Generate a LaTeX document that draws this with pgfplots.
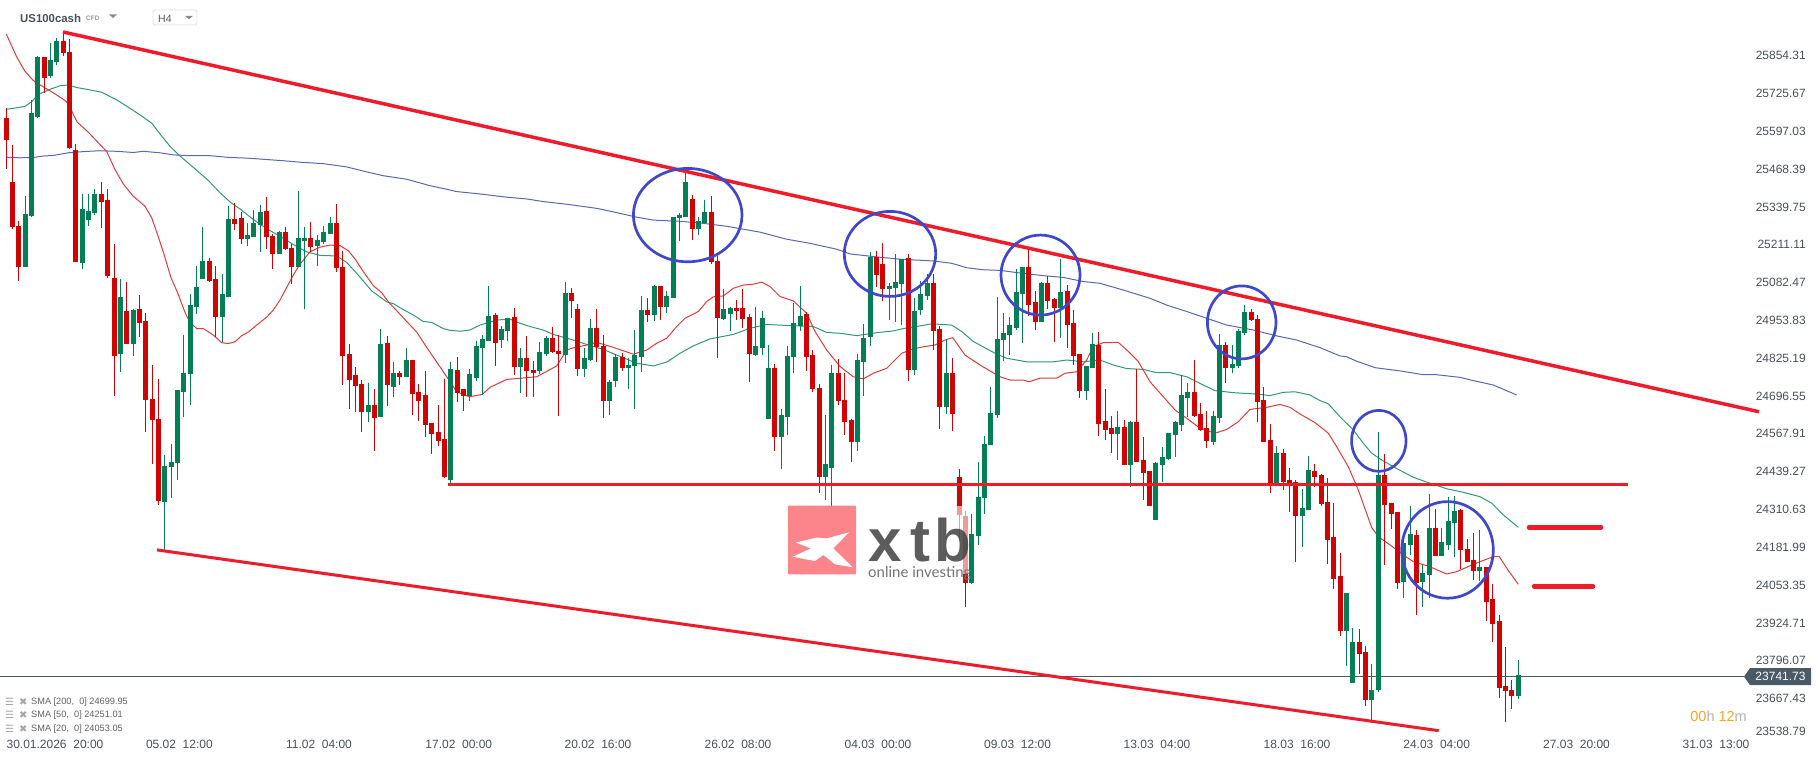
\documentclass[border=0pt]{standalone}
\usepackage{fontspec}
\setmainfont{Liberation Sans}
\newfontfamily\dvs{DejaVu Sans}
\newfontfamily\lato{Lato}
\usepackage{pgfplots}
\usepackage{pgfplotstable}
\pgfplotsset{compat=1.18}
\definecolor{cRed}{HTML}{D10404}
\definecolor{cGreen}{HTML}{047F55}
\definecolor{trend}{HTML}{EF1B2B}
\definecolor{circ}{HTML}{3F48CC}
\definecolor{sRed}{HTML}{E03A3A}
\definecolor{sGreen}{HTML}{2E9A78}
\definecolor{sBlue}{HTML}{5A66B8}
\definecolor{txt}{HTML}{4A5058}
\definecolor{tag}{HTML}{4A5A66}
\definecolor{orng}{HTML}{F5A623}
\definecolor{wm}{HTML}{FC848B}
\pgfplotstableread{
x h l t b
6.3 25676 25470 25643 25569
12.3 25551 25266 25424 25270
18.3 25292 25089 25275 25136
44.3 25850 25729 25850 25777
63.3 25935 25854 25904 25862
69.3 25910 25536 25867 25539
75.3 25553 25153 25532 25153
101.3 25423 25269 25384 25358
107.3 25401 25099 25364 25105
114.3 25213 24698 25099 24834
126.3 25084 24875 24986 24875
139.3 25040 24896 24993 24946
145.3 24978 24573 24952 24684
152.3 24802 24464 24687 24616
158.3 24755 24326 24619 24339
209.3 25166 25083 25156 25088
215.3 25139 24896 25095 24966
234.3 25354 25263 25299 25282
241.3 25321 25215 25303 25232
266.3 25373 25197 25326 25238
272.3 25248 25127 25241 25180
285.3 25271 25193 25254 25195
291.3 25214 25078 25201 25134
310.3 25288 25187 25235 25203
336.3 25350 25118 25286 25133
342.3 25189 24735 25135 24834
349.3 24874 24653 24840 24752
355.3 24795 24643 24768 24732
361.3 24750 24575 24738 24643
374.3 24720 24511 24666 24622
387.3 24901 24664 24878 24735
399.3 24780 24735 24776 24760
412.3 24819 24633 24819 24704
418.3 24738 24612 24710 24680
425.3 24782 24557 24700 24599
431.3 24605 24501 24605 24569
438.3 24666 24528 24574 24543
444.3 24755 24418 24551 24421
457.3 24829 24677 24785 24707
463.3 24721 24647 24721 24697
495.3 24979 24799 24973 24877
514.3 24996 24769 24966 24796
526.3 24901 24694 24826 24782
533.3 24816 24694 24786 24775
552.3 24932 24843 24894 24847
558.3 24905 24629 24850 24840
571.3 25065 24962 25048 25020
577.3 25010 24765 24993 24789
596.3 24993 24813 24928 24864
603.3 24905 24622 24867 24680
622.3 24843 24782 24830 24792
647.3 25031 24949 24990 24973
660.3 25071 24956 25071 25000
692.3 25381 25228 25367 25265
711.3 25378 25146 25323 25153
717.3 25173 24826 25156 24962
736.3 25024 24956 24996 24986
742.3 25061 24928 24996 24959
749.3 24976 24745 24966 24840
774.3 24806 24510 24792 24558
806.3 24983 24782 24976 24830
812.3 24854 24711 24836 24721
819.3 24738 24367 24724 24421
838.3 24823 24666 24775 24680
844.3 24775 24564 24684 24609
851.3 24619 24472 24615 24540
876.3 25190 25068 25170 25109
882.3 25218 25020 25146 25061
908.3 25180 24748 25166 24785
933.3 25112 24853 25081 24918
939.3 24935 24585 24925 24659
952.3 24826 24578 24775 24636
959.3 24449 24203 24421 24292
965.3 24305 23979 24289 24061
1028.3 25194 24969 25136 25006
1035.3 25054 24921 25016 24948
1047.3 25105 24993 25081 25020
1054.3 25030 24880 25027 24996
1067.3 25074 24860 25054 24938
1073.3 24989 24802 24945 24833
1079.3 24840 24690 24840 24714
1098.3 24914 24561 24870 24602
1105.3 24721 24547 24612 24581
1111.3 24629 24503 24588 24568
1124.3 24615 24462 24592 24462
1136.3 24789 24472 24609 24472
1143.3 24557 24343 24479 24435
1149.3 24442 24322 24442 24322
1194.3 24819 24625 24710 24629
1200.3 24673 24578 24636 24581
1206.3 24646 24520 24588 24544
1225.3 24880 24741 24870 24792
1251.3 24993 24952 24983 24955
1257.3 24972 24609 24959 24676
1263.3 24727 24540 24683 24540
1270.3 24602 24367 24547 24397
1283.3 24517 24377 24503 24404
1289.3 24452 24302 24411 24397
1295.3 24411 24132 24404 24289
1314.3 24465 24387 24441 24421
1321.3 24431 24322 24428 24329
1327.3 24418 24125 24336 24207
1333.3 24333 24040 24217 24074
1340.3 24162 23880 24084 23897
1359.3 23904 23751 23860 23819
1365.3 23846 23642 23826 23662
1384.3 24499 24122 24428 24326
1391.3 24333 24244 24333 24295
1397.3 24302 24040 24302 24060
1416.3 24241 23952 24224 24060
1435.3 24312 24152 24248 24152
1460.3 24312 24108 24309 24173
1467.3 24210 24132 24176 24132
1473.3 24231 24071 24139 24101
1486.3 24115 23931 24115 23996
1492.3 24057 23860 24006 23921
1499.3 23952 23669 23931 23703
1505.3 23843 23588 23710 23693
1511.3 23730 23632 23696 23676
}\redT
\pgfplotstableread{
x h l t b
25.3 25377 25136 25315 25136
31.3 25703 25307 25660 25310
37.3 25853 25641 25850 25645
50.3 25898 25777 25840 25785
56.3 25914 25824 25904 25833
82.3 25384 25130 25333 25150
88.3 25384 25276 25326 25297
94.3 25400 25313 25384 25320
120.3 25094 24779 25033 24838
133.3 24992 24834 24989 24875
164.3 24496 24173 24458 24337
171.3 24534 24348 24472 24454
177.3 24717 24412 24717 24467
183.3 24904 24624 24776 24709
190.3 25044 24667 25006 24772
196.3 25139 24977 25067 25000
202.3 25271 25096 25156 25096
222.3 25112 24880 25044 24966
228.3 25343 25032 25299 25032
247.3 25286 25208 25245 25232
253.3 25330 25236 25286 25237
260.3 25347 25185 25322 25279
279.3 25257 25180 25254 25180
298.3 25394 25135 25235 25135
304.3 25271 24991 25235 25224
317.3 25245 25139 25228 25206
323.3 25275 25214 25254 25221
330.3 25305 25248 25286 25248
368.3 24742 24607 24666 24643
380.3 24925 24625 24874 24625
393.3 24812 24693 24776 24726
406.3 24861 24760 24819 24760
450.3 24811 24398 24789 24411
469.3 24789 24681 24772 24697
476.3 24884 24746 24867 24758
482.3 24903 24699 24891 24860
488.3 25071 24883 24969 24884
501.3 24935 24860 24925 24888
507.3 24962 24884 24962 24918
520.3 24860 24707 24826 24796
539.3 24881 24772 24847 24782
546.3 24901 24833 24894 24840
565.3 25085 24809 25048 24837
584.3 24860 24762 24826 24789
590.3 24959 24816 24928 24820
609.3 24752 24632 24745 24680
615.3 24840 24728 24830 24748
628.3 24826 24721 24803 24792
634.3 24922 24653 24837 24799
641.3 25037 24779 24990 24830
654.3 25075 24952 25071 24973
666.3 25054 24979 25037 25000
673.3 25306 25031 25306 25031
679.3 25320 25224 25313 25303
685.3 25459 25306 25425 25306
698.3 25306 25245 25292 25265
704.3 25364 25282 25323 25286
723.3 25061 24956 24993 24959
730.3 25000 24918 24996 24976
755.3 25000 24833 24867 24837
762.3 24986 24837 24962 24860
768.3 24871 24619 24792 24619
781.3 24653 24449 24632 24558
787.3 24867 24564 24833 24626
793.3 25013 24775 24945 24830
800.3 25071 24918 24969 24935
825.3 24632 24343 24466 24421
831.3 24803 24323 24775 24452
857.3 24840 24510 24820 24540
863.3 24942 24697 24894 24813
870.3 25187 24867 25170 24898
889.3 25082 24956 25071 25061
895.3 25180 24949 25085 25065
901.3 25163 24938 25163 25078
914.3 25030 24768 24986 24785
920.3 25088 24972 25044 24989
927.3 25112 25023 25081 25037
946.3 24891 24636 24775 24659
971.3 24295 24057 24227 24061
978.3 24472 24190 24353 24220
984.3 24560 24295 24533 24350
990.3 24727 24530 24639 24530
997.3 25034 24622 24891 24632
1003.3 24979 24816 24911 24887
1009.3 24966 24836 24938 24904
1016.3 25129 24921 25050 24928
1022.3 25136 24877 25136 25044
1041.3 25085 24948 25081 24948
1060.3 25163 24894 25050 24996
1086.3 24799 24683 24799 24714
1092.3 24911 24792 24874 24792
1117.3 24646 24479 24592 24568
1130.3 24612 24387 24609 24462
1155.3 24472 24275 24469 24275
1162.3 24523 24404 24489 24462
1168.3 24571 24479 24571 24482
1175.3 24612 24489 24609 24564
1181.3 24768 24578 24700 24598
1187.3 24741 24625 24710 24690
1213.3 24646 24530 24629 24540
1219.3 24908 24605 24870 24622
1232.3 24870 24775 24806 24792
1238.3 24925 24792 24918 24799
1244.3 25007 24904 24983 24911
1276.3 24527 24397 24503 24397
1302.3 24380 24183 24316 24289
1308.3 24492 24309 24445 24309
1346.3 24026 23778 24026 23897
1352.3 23907 23720 23860 23720
1371.3 23785 23594 23696 23662
1378.3 24574 23690 24428 23696
1403.3 24224 24009 24197 24064
1410.3 24322 24156 24227 24190
1422.3 24122 23979 24094 24064
1429.3 24363 24009 24248 24088
1441.3 24248 24152 24200 24152
1448.3 24353 24173 24271 24190
1454.3 24356 24149 24305 24265
1479.3 24241 24067 24115 24101
1518.3 23798 23666 23747 23676
}\greenT
\begin{document}
\begin{tikzpicture}
\begin{axis}[
  scale only axis, width=1816pt, height=761pt,
  xmin=0, xmax=1816, ymin=23454.9, ymax=26043.8,
  scaled y ticks=false, scaled x ticks=false,
  axis line style={draw=none},
  major tick length=0pt, tick style={draw=none},
  xtick={55,179.4,319,458.8,598,738,878,1017.6,1157,1297,1436.7,1576.5,1716},
  xticklabels={{30.01.2026~~20:00},{05.02~~12:00},{11.02~~04:00},{17.02~~00:00},{20.02~~16:00},{26.02~~08:00},{04.03~~00:00},{09.03~~12:00},{13.03~~04:00},{18.03~~16:00},{24.03~~04:00},{27.03~~20:00},{31.03~~13:00}},
  xticklabel style={anchor=center, yshift=17pt, inner sep=0pt, text=txt, font=\fontsize{12}{14}\selectfont},
  ytick={25854.31,25725.67,25597.03,25468.39,25339.75,25211.11,25082.47,24953.83,24825.19,24696.55,24567.91,24439.27,24310.63,24181.99,24053.35,23924.71,23796.07,23667.43,23554.6},
  yticklabels={25854.31,25725.67,25597.03,25468.39,25339.75,25211.11,25082.47,24953.83,24825.19,24696.55,24567.91,24439.27,24310.63,24181.99,24053.35,23924.71,23796.07,23667.43,23538.79},
  yticklabel pos=right,
  yticklabel style={anchor=east, xshift=-10pt, inner sep=0pt, text=txt, font=\fontsize{12}{14}\selectfont},
  candle/.style={draw=none, no markers, forget plot, error bars/.cd, y dir=minus, y explicit, error mark=none, error bar style={line width=#1}},
]
% price line
\addplot[tag, line width=1pt, forget plot] coordinates {(0,23741.73) (1744,23741.73)};
% SMA 200
\addplot[sBlue, line width=1pt, forget plot] coordinates {
(6.3,25509)(20,25507)(33.3,25508)(43.3,25513)(53.3,25515)(68.3,25524)(83.3,25528)(100,25531)(116.7,25529)(133.3,25525)(143.3,25529)(160,25524)(173.3,25517)(190,25514)(210,25514)(230,25508)(246.7,25506)(266.7,25501)(283.3,25497)(300,25492)(323.3,25487)(346.7,25476)(366.7,25459)(383.3,25446)(406.7,25434)(430,25412)(446.7,25400)(456.7,25392)(480,25384)(506.7,25373)(526.7,25367)(543.3,25358)(566.7,25349)(596.7,25335)(613.3,25323)(636.7,25305)(653.3,25295)(680,25291)(703.3,25284)(726.7,25274)(760,25254)(786.7,25230)(810,25216)(836.7,25196)(850,25180)(873.3,25171)(900,25162)(933.3,25156)(951.7,25148)(966.7,25133)(983.3,25126)(1000,25124)(1020,25115)(1043.3,25106)(1063.3,25100)(1083.3,25086)(1100,25080)(1123.3,25057)(1150,25029)(1166.7,25006)(1186.7,24984)(1206.7,24961)(1226.7,24938)(1253.3,24921)(1276.7,24901)(1296.7,24887)(1320,24861)(1340,24833)(1346.7,24830)(1356.7,24815)(1370,24799)(1375,24793)(1400,24782)(1423.3,24769)(1436.7,24769)(1460,24760)(1473.3,24749)(1493.3,24734)(1516.7,24700)};
% SMA 50
\addplot[sGreen, line width=1pt, forget plot] coordinates {
(6.3,25672)(15,25676)(25,25682)(31.7,25698)(38.3,25722)(50,25740)(60,25752)(68.3,25755)(76.7,25746)(88.3,25739)(101.7,25730)(116.7,25704)(128.3,25679)(140,25653)(151.7,25625)(160,25588)(170,25546)(180,25513)(191.7,25479)(208.3,25430)(220,25388)(230,25357)(240,25333)(253.3,25297)(266.7,25266)(280,25240)(293.3,25212)(306.7,25187)(320,25175)(336.7,25173)(346.7,25151)(358.3,25108)(371.7,25054)(386.7,25017)(393.3,25011)(400,24997)(413.3,24972)(423.3,24950)(431.7,24947)(443.3,24926)(450,24920)(460,24917)(470,24921)(480,24938)(496.7,24955)(510,24958)(520,24944)(530,24933)(543.3,24921)(553.3,24906)(573.3,24887)(586.7,24872)(603.3,24855)(616.7,24836)(636.7,24808)(653.3,24799)(666.7,24812)(680,24842)(693.3,24867)(710,24891)(733.3,24906)(750,24927)(766.7,24940)(790,24936)(813.3,24933)(826.7,24913)(840,24910)(856.7,24902)(876.7,24912)(893.3,24918)(903.3,24926)(916.7,24933)(931.7,24942)(951.7,24938)(961.7,24916)(973.3,24882)(995,24842)(1006.7,24825)(1026.7,24813)(1053.3,24813)(1066.7,24819)(1083.3,24813)(1100,24819)(1113.3,24802)(1126.7,24790)(1143.3,24787)(1156.7,24776)(1170,24776)(1186.7,24762)(1203.3,24734)(1215,24715)(1233.3,24708)(1256.7,24703)(1270,24698)(1283.3,24709)(1295,24711)(1310,24700)(1320,24681)(1328.3,24670)(1340,24626)(1353.3,24581)(1363.3,24536)(1371.7,24502)(1381.7,24479)(1395,24453)(1413.3,24420)(1428.3,24402)(1446.7,24381)(1463.3,24369)(1480,24354)(1491.7,24332)(1503.3,24292)(1518.3,24250)};
% SMA 20
\addplot[sRed, line width=1pt, forget plot] coordinates {
(6.3,25928)(16.7,25850)(25,25801)(33.3,25770)(44.3,25746)(53.3,25728)(63.3,25706)(68.3,25692)(73.3,25655)(77.3,25628)(88.3,25594)(100,25552)(106.7,25528)(115,25467)(123.3,25418)(132.7,25378)(145,25342)(151.7,25303)(156.7,25254)(163.3,25187)(170.7,25102)(178.3,25042)(185,24981)(190,24947)(196.7,24926)(203.3,24926)(213.3,24904)(221.7,24878)(228.3,24875)(235,24881)(241.7,24902)(248.3,24914)(256.7,24938)(266.7,24965)(273.3,24989)(280,25023)(286.7,25066)(293.3,25108)(300,25145)(310,25187)(320,25203)(330,25210)(340,25208)(348.3,25191)(355,25163)(363.3,25120)(373.3,25072)(381.7,25048)(388.3,25017)(396.7,24987)(406.7,24950)(416.7,24914)(425,24871)(433.3,24829)(440,24796)(446.7,24762)(456.7,24711)(469.3,24694)(482.3,24702)(490,24726)(506.7,24753)(520,24757)(536.7,24762)(556.7,24799)(566.7,24853)(571.7,24859)(586.7,24870)(596.7,24879)(613.3,24862)(633.3,24839)(646.7,24853)(656.7,24876)(666.7,24893)(676.7,24933)(685,24961)(698.3,24984)(706.7,25018)(713.3,25034)(723.3,25037)(733.3,25063)(743.3,25074)(753.3,25077)(761.7,25084)(770,25069)(780,25035)(793.3,25020)(806.7,24978)(815,24916)(826.7,24853)(840,24797)(853.3,24762)(863.3,24755)(873.3,24774)(886.7,24791)(901.7,24842)(913.3,24857)(923.3,24864)(935,24870)(945,24887)(952.7,24895)(965,24836)(980,24802)(1000,24762)(1010,24751)(1023.3,24751)(1029,24745)(1040,24757)(1056.7,24757)(1065,24774)(1076.7,24779)(1086.7,24819)(1093.3,24865)(1103.3,24878)(1118.3,24879)(1128.3,24848)(1138.3,24814)(1150,24745)(1163.3,24694)(1175,24649)(1186.7,24621)(1200,24587)(1215,24570)(1226.7,24583)(1238.3,24609)(1250,24651)(1266.7,24658)(1280,24668)(1290,24658)(1301.7,24632)(1315,24606)(1328.3,24570)(1336.7,24524)(1348.3,24456)(1358.3,24377)(1371.7,24249)(1378.3,24218)(1390,24190)(1403.3,24156)(1413.3,24133)(1428.3,24118)(1446.7,24091)(1456.7,24099)(1470,24119)(1480,24133)(1493.3,24150)(1499.3,24150)(1508.3,24103)(1518.3,24056)};
% candles: wicks and bodies
\addplot[draw=none, no markers, forget plot, error bars/.cd, y dir=minus, y explicit, error mark=none, error bar style={line width=1pt, draw=cRed}] table[x=x, y=h, y error minus expr=\thisrow{h}-\thisrow{l}] {\redT};
\addplot[draw=none, no markers, forget plot, error bars/.cd, y dir=minus, y explicit, error mark=none, error bar style={line width=5pt, draw=cRed}] table[x=x, y=t, y error minus expr=\thisrow{t}-\thisrow{b}] {\redT};
\addplot[draw=none, no markers, forget plot, error bars/.cd, y dir=minus, y explicit, error mark=none, error bar style={line width=1pt, draw=cGreen}] table[x=x, y=h, y error minus expr=\thisrow{h}-\thisrow{l}] {\greenT};
\addplot[draw=none, no markers, forget plot, error bars/.cd, y dir=minus, y explicit, error mark=none, error bar style={line width=5pt, draw=cGreen}] table[x=x, y=t, y error minus expr=\thisrow{t}-\thisrow{b}] {\greenT};
% watermark
\fill[white, fill opacity=0.6] (axis cs:788,24324) rectangle (axis cs:968,24092);
\fill[wm, rounded corners=1pt] (axis cs:788,24324) rectangle (axis cs:856,24090);
\fill[white] (axis cs:792.7,24150)--(axis cs:815,24135)--(axis cs:823.3,24156)--(axis cs:835,24124)--(axis cs:852.7,24114)--(axis cs:833.3,24178)--(axis cs:849,24233)--(axis cs:826.7,24212)--(axis cs:816.7,24215)--(axis cs:795.7,24198)--(axis cs:811,24178)--cycle;
\node[anchor=base west, inner sep=0pt, text=black!75, text opacity=0.85, font=\fontsize{60}{60}\selectfont\bfseries] at (axis cs:868,24133) {x};
\node[anchor=base west, inner sep=0pt, text=black!75, text opacity=0.85, font=\fontsize{60}{60}\selectfont\bfseries] at (axis cs:910,24133) {t};
\node[anchor=base west, inner sep=0pt, text=black!75, text opacity=0.85, font=\fontsize{60}{60}\selectfont\bfseries] at (axis cs:934,24133) {b};
\node[anchor=base west, inner sep=0pt, text=black!55, font=\fontsize{15}{15}\selectfont\lato] at (axis cs:868,24080) {online investing};
% trend lines
\addplot[trend, line width=3.5pt, forget plot] coordinates {(63,25935) (1759,24643)};
\addplot[trend, line width=3pt, forget plot] coordinates {(157,24173) (1438.7,23558)};
\addplot[trend, line width=3pt, forget plot] coordinates {(448,24396) (1628,24396)};
\addplot[trend, line width=4.5pt, line cap=round, forget plot] coordinates {(1529,24250) (1601,24250)};
\addplot[trend, line width=4.5pt, line cap=round, forget plot] coordinates {(1534,24049) (1593,24049)};
% circles
\draw[circ, line width=2.7pt] (axis cs:687.7,25312) ellipse [x radius=54.3pt, y radius=46.7pt];
\draw[circ, line width=2.7pt] (axis cs:890,25180) ellipse [x radius=45.7pt, y radius=42.5pt];
\draw[circ, line width=2.7pt] (axis cs:1040.5,25108) ellipse [x radius=39.5pt, y radius=40pt];
\draw[circ, line width=2.7pt] (axis cs:1241.7,24947) ellipse [x radius=34.3pt, y radius=36.5pt];
\draw[circ, line width=2.7pt] (axis cs:1378.8,24544) ellipse [x radius=27.2pt, y radius=30.5pt];
\draw[circ, line width=2.7pt] (axis cs:1447.5,24173) ellipse [x radius=45.8pt, y radius=48.3pt];
% price tag
\fill[tag] (axis cs:1744,23741.73)--(axis cs:1750,23771)--(axis cs:1811,23771)--(axis cs:1811,23713)--(axis cs:1750,23713)--cycle;
\node[text=white, inner sep=0pt, font=\fontsize{12}{14}\selectfont] at (axis cs:1780.5,23741.73) {23741.73};
% header
\node[anchor=west, inner sep=0pt, text=txt, font=\fontsize{11.4}{13}\selectfont\bfseries] at (axis cs:20,25982) {US100cash};
\node[anchor=west, inner sep=0pt, text=black!40, font=\fontsize{6.5}{8}\selectfont\bfseries] at (axis cs:86,25980) {CFD};
\fill[black!45] (axis cs:109,25995)--(axis cs:117,25995)--(axis cs:113,25982)--cycle;
\draw[black!12, line width=0.8pt, rounded corners=2pt] (axis cs:153,26010) rectangle (axis cs:197,25959);
\node[anchor=west, inner sep=0pt, text=black!65, font=\fontsize{10.5}{12}\selectfont] at (axis cs:158,25980) {H4};
\fill[black!45] (axis cs:185,25990)--(axis cs:193,25990)--(axis cs:189,25978)--cycle;
% legend
\node[anchor=west, inner sep=0pt, text=black!35, font=\fontsize{10}{11}\selectfont\dvs] at (axis cs:5,23656.7) {☰\hspace{5pt}✖};
\node[anchor=west, inner sep=0pt, text=black!35, font=\fontsize{10}{11}\selectfont\dvs] at (axis cs:5,23611.4) {☰\hspace{5pt}✖};
\node[anchor=west, inner sep=0pt, text=black!35, font=\fontsize{10}{11}\selectfont\dvs] at (axis cs:5,23562.8) {☰\hspace{5pt}✖};
\node[anchor=west, inner sep=0pt, text=black!62, font=\fontsize{9.2}{10}\selectfont] at (axis cs:31,23656.7) {SMA [200,~ 0] 24699.95};
\node[anchor=west, inner sep=0pt, text=black!62, font=\fontsize{9.2}{10}\selectfont] at (axis cs:31,23611.4) {SMA [50,~ 0] 24251.01};
\node[anchor=west, inner sep=0pt, text=black!62, font=\fontsize{9.2}{10}\selectfont] at (axis cs:31,23562.8) {SMA [20,~ 0] 24053.05};
% countdown
\node[anchor=east, inner sep=0pt, font=\fontsize{14.5}{16}\selectfont] at (axis cs:1747,23608) {\textcolor{orng}{00}\textcolor{black!30}{h} \textcolor{orng}{12}\textcolor{black!30}{m}};
\end{axis}
\end{tikzpicture}
\end{document}
